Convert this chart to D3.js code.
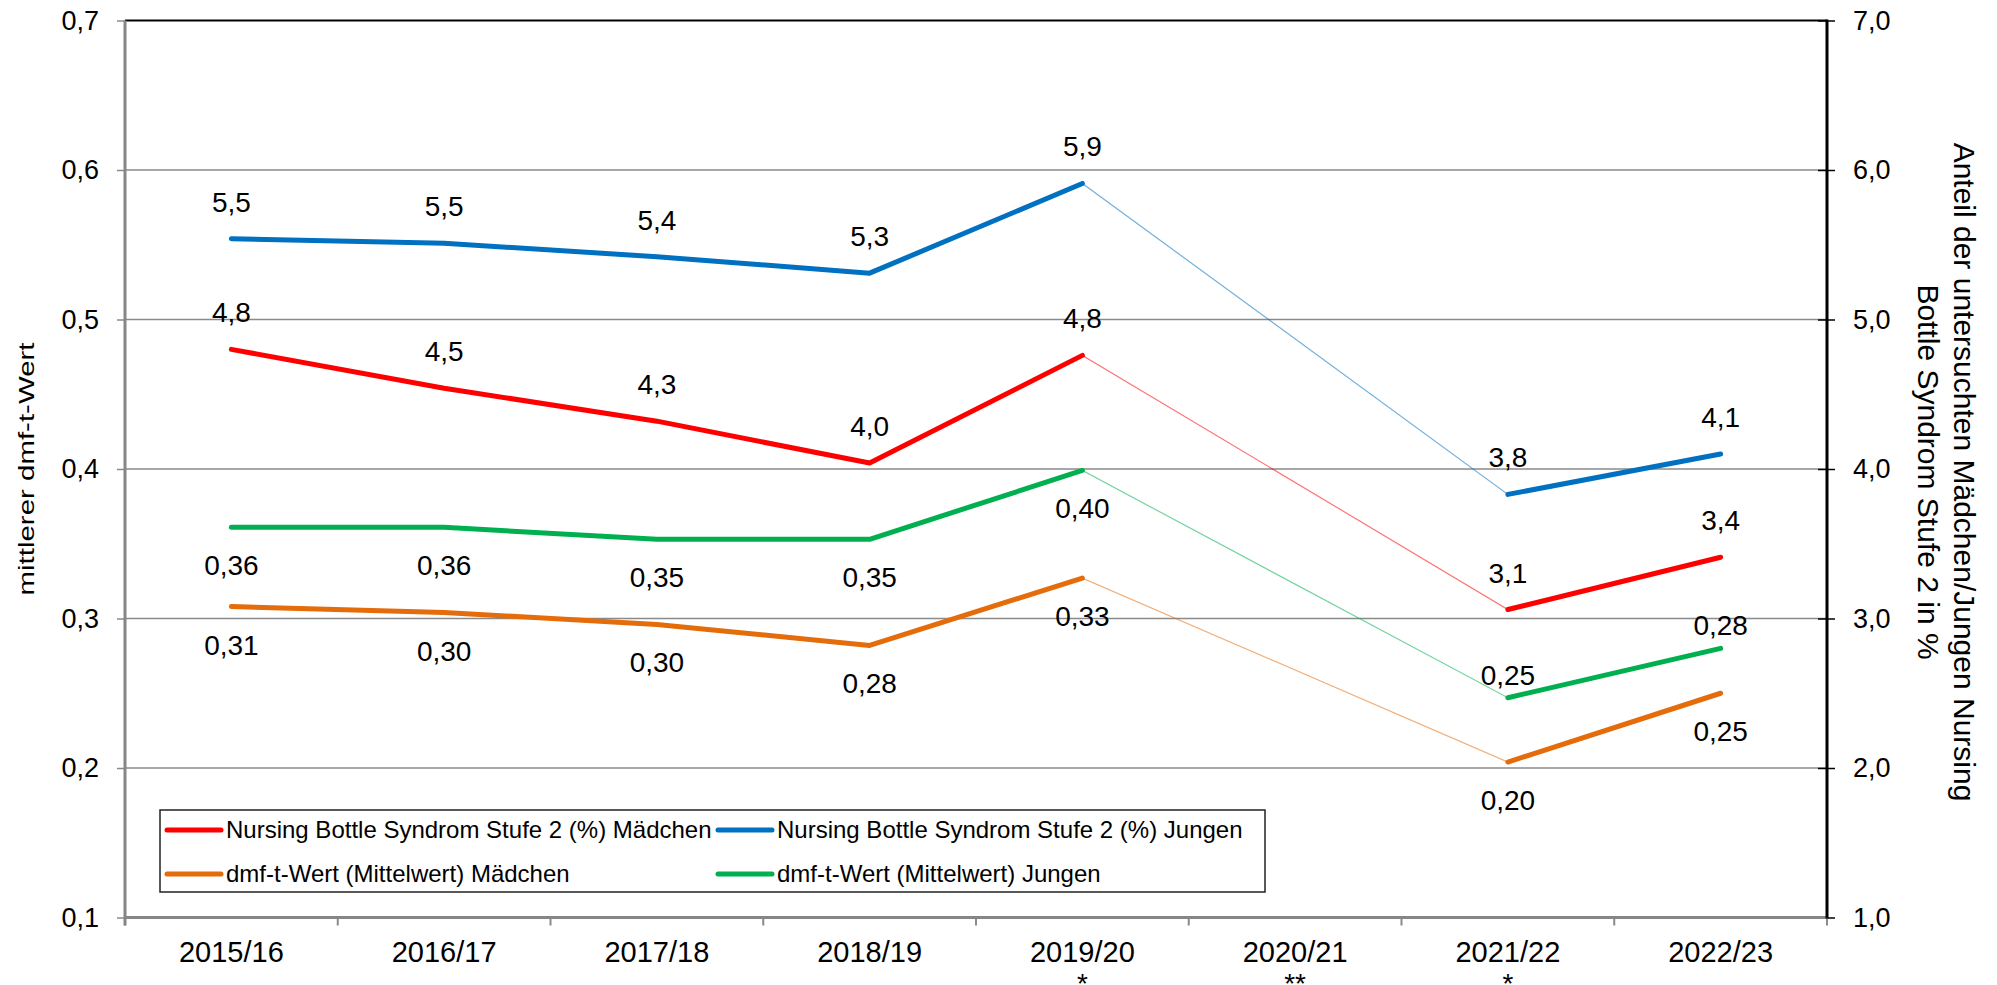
<!DOCTYPE html>
<html>
<head>
<meta charset="utf-8">
<script src="https://cdn.jsdelivr.net/npm/d3@7"></script>
<style>
  body { margin: 0; background: #fff; }
  svg { display: block; font-family: "Liberation Sans", Arial, sans-serif; }
</style>
</head>
<body>
<svg id="chart"></svg>
<script>
const WIDTH = 1997;
const HEIGHT = 985;

// schuljahre und fussnoten unter der achse
const years = ["2015/16", "2016/17", "2017/18", "2018/19", "2019/20", "2020/21", "2021/22", "2022/23"];
const footnotes = ["", "", "", "", "*", "**", "*", ""];

// Nursing Bottle Syndrom Stufe 2 in % (rechte achse)
const nbsMaedchen = [4.80, 4.54, 4.32, 4.04, 4.76, null, 3.06, 3.41];
const nbsJungen = [5.54, 5.51, 5.42, 5.31, 5.91, null, 3.83, 4.10];

// mittlerer dmf-t-Wert (linke achse)
const dmftMaedchen = [0.308, 0.304, 0.296, 0.282, 0.327, null, 0.204, 0.250];
const dmftJungen = [0.361, 0.361, 0.353, 0.353, 0.399, null, 0.247, 0.280];

// wo die beschriftung steht
const posNbsMaedchen = ["above", "above", "above", "above", "above", null, "above", "above"];
const posNbsJungen = ["above", "above", "above", "above", "above", null, "above", "above"];
const posDmftMaedchen = ["below", "below", "below", "below", "below", null, "below", "below"];
const posDmftJungen = ["below", "below", "below", "below", "below", null, "near", "near"];

const leftTicks = [0.1, 0.2, 0.3, 0.4, 0.5, 0.6, 0.7];
const rightTicks = [1, 2, 3, 4, 5, 6, 7];

const locale = d3.formatLocale({ decimal: ",", thousands: ".", grouping: [3], currency: ["", " €"] });
const f1 = locale.format(".1f");
const f2 = locale.format(".2f");

const M = { left: 125, right: 1827, top: 20.5, bottom: 917.5 };
const labelShift = { above: -27, near: -13, below: 48 };

const svg = d3.select("#chart").attr("width", WIDTH).attr("height", HEIGHT);

const x = d3.scaleBand().domain(years).range([M.left, M.right]).padding(0);
const cx = d => x(d) + x.bandwidth() / 2;
const yL = d3.scaleLinear().domain([0.1, 0.7]).range([M.bottom, M.top]);
const yR = d3.scaleLinear().domain([1, 7]).range([M.bottom, M.top]);

const series = [
    { name: "Nursing Bottle Syndrom Stufe 2 (%) Mädchen", values: nbsMaedchen, y: yR, color: "#ff0000", fmt: f1, pos: posNbsMaedchen },
    { name: "Nursing Bottle Syndrom Stufe 2 (%) Jungen", values: nbsJungen, y: yR, color: "#0070c0", fmt: f1, pos: posNbsJungen },
    { name: "dmf-t-Wert (Mittelwert) Mädchen", values: dmftMaedchen, y: yL, color: "#e46c0a", fmt: f2, pos: posDmftMaedchen },
    { name: "dmf-t-Wert (Mittelwert) Jungen", values: dmftJungen, y: yL, color: "#00b050", fmt: f2, pos: posDmftJungen }
];

// gitternetz
svg.append("g")
    .selectAll("line")
    .data(leftTicks.slice(1, -1))
    .enter()
    .append("line")
    .attr("x1", M.left)
    .attr("x2", M.right)
    .attr("y1", d => yL(d))
    .attr("y2", d => yL(d))
    .attr("stroke", "#8a8a8a")
    .attr("stroke-width", 1.5);

// linke achse
const axL = svg.append("g")
    .attr("transform", `translate(${M.left},0)`)
    .call(d3.axisLeft(yL).tickValues(leftTicks).tickFormat(f1).tickSize(8).tickPadding(18));
axL.select(".domain").remove();
axL.selectAll(".tick line").attr("stroke", "#8a8a8a").attr("stroke-width", 1.5);
axL.selectAll(".tick text").attr("font-size", 27).attr("fill", "#000").attr("font-family", "Liberation Sans, Arial");

// rechte achse
const axR = svg.append("g")
    .attr("transform", `translate(${M.right},0)`)
    .call(d3.axisRight(yR).tickValues(rightTicks).tickFormat(f1).tickSize(8).tickPadding(18));
axR.select(".domain").remove();
axR.selectAll(".tick line").attr("x1", -9).attr("stroke", "#000").attr("stroke-width", 1.5);
axR.selectAll(".tick text").attr("font-size", 27).attr("fill", "#000").attr("font-family", "Liberation Sans, Arial");

// kategorie-trennstriche
const bounds = years.map(d => x(d)).concat([M.right]);
svg.append("g")
    .selectAll("line")
    .data(bounds)
    .enter()
    .append("line")
    .attr("x1", d => d)
    .attr("x2", d => d)
    .attr("y1", M.bottom)
    .attr("y2", M.bottom + 8)
    .attr("stroke", "#8a8a8a")
    .attr("stroke-width", 2);

// rahmen
svg.append("line").attr("x1", M.left).attr("x2", M.right).attr("y1", M.top).attr("y2", M.top)
    .attr("stroke", "#000").attr("stroke-width", 2);
svg.append("line").attr("x1", M.left).attr("x2", M.right).attr("y1", M.bottom).attr("y2", M.bottom)
    .attr("stroke", "#868686").attr("stroke-width", 3);
svg.append("line").attr("x1", M.left).attr("x2", M.left).attr("y1", M.top).attr("y2", M.bottom + 8)
    .attr("stroke", "#868686").attr("stroke-width", 3);
svg.append("line").attr("x1", M.right).attr("x2", M.right).attr("y1", M.top - 1).attr("y2", M.bottom + 1)
    .attr("stroke", "#000").attr("stroke-width", 3);

// x-beschriftung
svg.append("g")
    .selectAll("text")
    .data(years)
    .enter()
    .append("text")
    .attr("x", d => cx(d))
    .attr("y", 962)
    .attr("text-anchor", "middle")
    .attr("font-size", 29)
    .text(d => d);
svg.append("g")
    .selectAll("text")
    .data(years)
    .enter()
    .append("text")
    .attr("x", d => cx(d))
    .attr("y", 993)
    .attr("text-anchor", "middle")
    .attr("font-size", 28)
    .text((d, i) => footnotes[i]);

// achsentitel
svg.append("text")
    .attr("transform", `translate(34,${(M.top + M.bottom) / 2}) rotate(-90)`)
    .attr("text-anchor", "middle")
    .attr("font-size", 22)
    .attr("textLength", 253)
    .attr("lengthAdjust", "spacingAndGlyphs")
    .text("mittlerer dmf-t-Wert");

const rt = svg.append("text")
    .attr("transform", `translate(1954,472) rotate(90)`)
    .attr("text-anchor", "middle")
    .attr("font-size", 30);
rt.append("tspan").attr("x", 0).attr("y", 0).text("Anteil der untersuchten Mädchen/Jungen Nursing");
rt.append("tspan").attr("x", 0).attr("y", 36).text("Bottle Syndrom Stufe 2 in %");

// linien
series.forEach(s => {
    const pts = s.values.map((v, i) => ({ year: years[i], v: v, pos: s.pos[i] }));
    const line = d3.line()
        .defined(d => d.v !== null)
        .x(d => cx(d.year))
        .y(d => s.y(d.v));

    // duenne verbindung ueber die luecke
    svg.append("path")
        .datum(pts.filter(d => d.v !== null))
        .attr("d", line)
        .attr("fill", "none")
        .attr("stroke", s.color)
        .attr("stroke-opacity", 0.55)
        .attr("stroke-width", 1.2);

    svg.append("path")
        .datum(pts)
        .attr("d", line)
        .attr("fill", "none")
        .attr("stroke", s.color)
        .attr("stroke-width", 5)
        .attr("stroke-linecap", "round")
        .attr("stroke-linejoin", "round");

    s.pts = pts;
});

// datenbeschriftung
series.forEach(s => {
    svg.append("g")
        .selectAll("text")
        .data(s.pts.filter(d => d.v !== null))
        .enter()
        .append("text")
        .attr("x", d => cx(d.year))
        .attr("y", d => s.y(d.v) + labelShift[d.pos])
        .attr("text-anchor", "middle")
        .attr("font-size", 28)
        .text(d => s.fmt(d.v));
});

// legende
const lg = svg.append("g");
lg.append("rect")
    .attr("x", 160)
    .attr("y", 810)
    .attr("width", 1105)
    .attr("height", 82)
    .attr("fill", "#fff")
    .attr("stroke", "#222")
    .attr("stroke-width", 1.5);

const legendCols = [167, 718];
const legendRows = [830, 874];
series.forEach((s, k) => {
    const lx = legendCols[k % 2];
    const ly = legendRows[Math.floor(k / 2)];
    lg.append("line")
        .attr("x1", lx)
        .attr("x2", lx + 54)
        .attr("y1", ly)
        .attr("y2", ly)
        .attr("stroke", s.color)
        .attr("stroke-width", 5)
        .attr("stroke-linecap", "round");
    lg.append("text")
        .attr("x", lx + 59)
        .attr("y", ly + 8)
        .attr("font-size", 24)
        .text(s.name);
});
</script>
</body>
</html>
